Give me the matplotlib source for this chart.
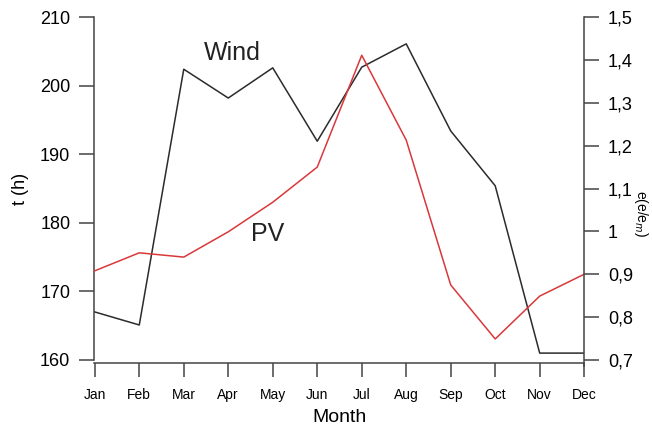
import matplotlib.pyplot as plt
import numpy as np

plt.rcParams['font.family'] = ['Liberation Sans', 'DejaVu Sans']

months = ["Jan", "Feb", "Mar", "Apr", "May", "Jun",
          "Jul", "Aug", "Sep", "Oct", "Nov", "Dec"]
# hours per month, left axis
wind_hours = [167.0, 165.1, 202.4, 198.2, 202.6, 191.9,
              202.7, 206.1, 193.4, 185.4, 161.0, 161.0]
# normalised PV, right axis
pv_ratio = [0.908, 0.950, 0.940, 0.999, 1.068, 1.150,
            1.411, 1.213, 0.875, 0.749, 0.849, 0.900]

left_ticks = [160, 170, 180, 190, 200, 210]
right_ticks = [0.7, 0.8, 0.9, 1.0, 1.1, 1.2, 1.3, 1.4, 1.5]
right_labels = ["0,7", "0,8", "0,9", "1", "1,1", "1,2", "1,3", "1,4", "1,5"]

axis_col = "#444444"

fig = plt.figure(figsize=(6.52, 4.28), dpi=100)
ax = fig.add_axes([0.144, 0.159, 0.752, 0.801])
x = np.arange(len(months))

ax.plot(x, wind_hours, color="#2b2b2b", lw=1.1)
ax.set_xlim(-0.02, 11.0)
ax.set_ylim(160, 210)
ax.set_yticks(left_ticks)
ax.set_xticks(x)
ax.set_xticklabels(months, fontsize=10.5)
ax.tick_params(axis="y", length=11, width=1.1, color=axis_col, labelsize=13, pad=6)
ax.tick_params(axis="x", length=10, width=1.1, color=axis_col, pad=8)
ax.set_ylabel("t (h)", fontsize=13, labelpad=8)
ax.set_xlabel("Month", fontsize=14, labelpad=5)

for s in ["top", "right"]:
    ax.spines[s].set_visible(False)
ax.spines["left"].set_color(axis_col)
ax.spines["left"].set_linewidth(1.1)
ax.spines["bottom"].set_color(axis_col)
ax.spines["bottom"].set_linewidth(1.1)
ax.spines["bottom"].set_position(("outward", 2))

ax2 = ax.twinx()
ax2.plot(x, pv_ratio, color="#d9383a", lw=1.1)
ax2.set_ylim(0.7, 1.5)
ax2.set_yticks(right_ticks)
ax2.set_yticklabels(right_labels)
ax2.tick_params(axis="y", length=11, width=1.1, color=axis_col, labelsize=13, pad=6)
for s in ["top", "left", "bottom"]:
    ax2.spines[s].set_visible(False)
ax2.spines["right"].set_color(axis_col)
ax2.spines["right"].set_linewidth(1.1)
ax2.spines["right"].set_bounds(0.685, 1.5)

ax.text(2.45, 203.7, "Wind", fontsize=18, color="#222222")
ax.text(3.5, 177.3, "PV", fontsize=18, color="#222222")

fig.text(0.970, 0.50, "e(e/e$_m$)", rotation=270, fontsize=10,
         va="center", ha="left")

fig.savefig("out.png", dpi=100)
